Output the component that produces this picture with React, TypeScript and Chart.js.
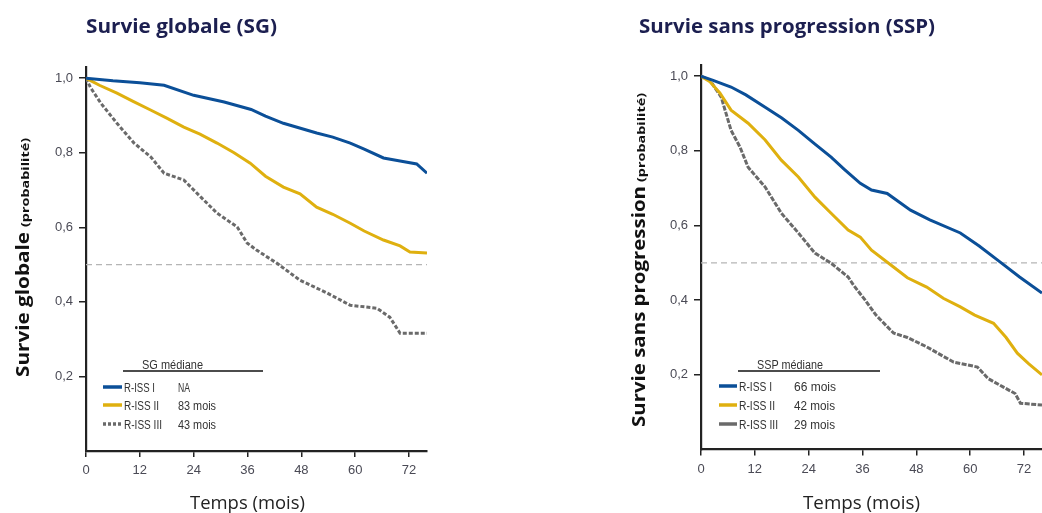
import React, { useEffect, useRef } from "react";
import { Chart, registerables } from "chart.js";

Chart.register(...registerables);

// ---------------- Data ----------------
const xTickValues = [0, 12, 24, 36, 48, 60, 72];
const yTickValues = [0.2, 0.4, 0.6, 0.8, 1.0];
const seriesNames = ["R-ISS I", "R-ISS II", "R-ISS III"];
const sgMedians = ["NA", "83 mois", "43 mois"];
const sspMedians = ["66 mois", "42 mois", "29 mois"];
const medianLine = [0.5, 0.5];
const medianLineMonths = [0, 76];

// Survie globale
const sgIMonths = [0, 6, 12, 17.4, 24, 30.8, 36.8, 40, 44, 51.4, 55, 58.9, 62, 66.3, 70, 73.7, 76];
const sgIProb = [1.0, 0.993, 0.988, 0.981, 0.954, 0.936, 0.916, 0.898, 0.879, 0.853, 0.842, 0.826, 0.81, 0.786, 0.778, 0.77, 0.745];
const sgIIMonths = [0, 3, 6.9, 10.5, 14.5, 18, 21.8, 25.4, 29.2, 33, 36.6, 40, 44, 47.7, 51.4, 55, 58.9, 62, 66.3, 70, 72.2, 76];
const sgIIProb = [1.0, 0.981, 0.96, 0.938, 0.914, 0.893, 0.869, 0.85, 0.826, 0.8, 0.772, 0.737, 0.708, 0.69, 0.654, 0.635, 0.611, 0.59, 0.566, 0.55, 0.534, 0.531];
const sgIIIMonths = [0, 1, 3.3, 6.9, 10.7, 14.5, 17.4, 21.8, 25.6, 29.2, 33.7, 35.9, 38, 42.5, 47.7, 53.7, 58.9, 64.8, 67.7, 70, 76];
const sgIIIProb = [1.0, 0.975, 0.933, 0.879, 0.826, 0.788, 0.745, 0.727, 0.681, 0.638, 0.601, 0.558, 0.539, 0.504, 0.458, 0.424, 0.391, 0.383, 0.359, 0.316, 0.316];

// Survie sans progression
const sspIMonths = [0, 2.7, 6.7, 10, 14.3, 18, 21.7, 25, 29, 32, 35.5, 38, 41.5, 46.7, 51, 57.8, 62, 66.7, 71, 76];
const sspIProb = [1.0, 0.989, 0.971, 0.95, 0.917, 0.888, 0.855, 0.822, 0.783, 0.75, 0.713, 0.695, 0.686, 0.641, 0.615, 0.58, 0.545, 0.502, 0.462, 0.419];
const sspIIMonths = [0, 2, 4.2, 6.7, 10.5, 14.3, 17.9, 21.7, 25.4, 29, 32.8, 35.5, 38, 42.9, 46, 50.3, 54, 57.8, 61, 65.2, 68, 70.5, 73, 76];
const sspIIProb = [1.0, 0.985, 0.955, 0.909, 0.874, 0.829, 0.775, 0.73, 0.676, 0.633, 0.588, 0.569, 0.534, 0.489, 0.46, 0.435, 0.405, 0.382, 0.36, 0.338, 0.3, 0.258, 0.23, 0.2];
const sspIIIMonths = [0, 2, 4.5, 6.7, 8.7, 10.5, 14.3, 17.9, 21.7, 25.4, 29, 32.8, 34, 36.6, 39, 42.9, 46, 50.3, 56.3, 61.6, 64, 67.4, 70, 71.2, 76];
const sspIIIProb = [1.0, 0.989, 0.944, 0.855, 0.81, 0.756, 0.703, 0.633, 0.58, 0.526, 0.499, 0.462, 0.44, 0.4, 0.36, 0.312, 0.3, 0.275, 0.234, 0.221, 0.19, 0.167, 0.15, 0.124, 0.119];

// ---------------- Styles ----------------
const BLUE = "#0b4f98";
const YELLOW = "#dfb00f";
const GRAY = "#6a6a6a";
const NAVY = "#1c1f50";
const SANS = "'Open Sans', 'Noto Sans', sans-serif";
const NARROW = "'Liberation Sans Narrow', 'Liberation Sans', Roboto, sans-serif";

const zip = (xs: number[], ys: number[]) => xs.map((x, i) => ({ x, y: ys[i] }));

function fitText(ctx: CanvasRenderingContext2D, text: string, x: number, y: number, w: number, font: string, color: string) {
  ctx.save();
  ctx.font = font;
  ctx.fillStyle = color;
  ctx.textAlign = "left";
  ctx.textBaseline = "alphabetic";
  const m = ctx.measureText(text).width || 1;
  ctx.translate(x, y);
  ctx.scale(w / m, 1);
  ctx.fillText(text, 0, 0);
  ctx.restore();
}

type Spec = {
  canvasWidth: number;
  yAxisWidth: number;
  xAxisHeight: number;
  padTop: number;
  padRight: number;
  series: { months: number[]; prob: number[] }[];
  grayDash: number[];
  title: { text: string; x: number; y: number; w: number };
  yTitle: { big: string; small: string; baseX: number; bigStart: number; bigEnd: number; smallStart: number; smallEnd: number };
  xTitle: { text: string; x: number; y: number; w: number };
  legend: {
    header: string; headerX: number; headerW: number; lineX1: number; lineX2: number; lineY: number;
    sampleX1: number; sampleX2: number; labelX: number; valueX: number; rowsY: number[];
    values: string[]; labelW: number[]; valueW: number[]; graySampleDash: number[];
  };
};

function makePlugin(spec: Spec) {
  return {
    id: "panelText",
    afterDraw(chart: any) {
      const ctx: CanvasRenderingContext2D = chart.ctx;
      // Title
      fitText(ctx, spec.title.text, spec.title.x, spec.title.y, spec.title.w, `bold 20px ${SANS}`, NAVY);
      // X title
      const xt = spec.xTitle;
      fitText(ctx, xt.text, xt.x, xt.y, xt.w, `19px ${SANS}`, "#222");
      // Y title (rotated)
      const yt = spec.yTitle;
      ctx.save();
      ctx.translate(yt.baseX, 0);
      ctx.rotate(-Math.PI / 2);
      // in rotated frame: u = -screenY
      fitText(ctx, yt.big, -yt.bigStart, 0, yt.bigStart - yt.bigEnd, `bold 18px ${SANS}`, "#111");
      fitText(ctx, yt.small, -yt.smallStart, 0, yt.smallStart - yt.smallEnd, `bold 11px ${SANS}`, "#111");
      ctx.restore();
      // Legend
      const lg = spec.legend;
      fitText(ctx, lg.header, lg.headerX, lg.lineY - 2, lg.headerW, `12px ${NARROW}`, "#333");
      ctx.save();
      ctx.strokeStyle = "#111";
      ctx.lineWidth = 1.5;
      ctx.beginPath();
      ctx.moveTo(lg.lineX1, lg.lineY);
      ctx.lineTo(lg.lineX2, lg.lineY);
      ctx.stroke();
      ctx.restore();
      const colors = [BLUE, YELLOW, GRAY];
      lg.rowsY.forEach((ry, i) => {
        ctx.save();
        ctx.strokeStyle = colors[i];
        ctx.lineWidth = 3.5;
        if (i === 2) ctx.setLineDash(lg.graySampleDash);
        ctx.beginPath();
        ctx.moveTo(lg.sampleX1, ry);
        ctx.lineTo(lg.sampleX2, ry);
        ctx.stroke();
        ctx.restore();
        fitText(ctx, seriesNames[i], lg.labelX, ry + 4.5, lg.labelW[i], `12px ${NARROW}`, "#333");
        fitText(ctx, lg.values[i], lg.valueX, ry + 4.5, lg.valueW[i], `12px ${NARROW}`, "#333");
      });
    },
  };
}

function makeConfig(spec: Spec): any {
  const colors = [BLUE, YELLOW, GRAY];
  const datasets: any[] = spec.series.map((s, i) => ({
    label: seriesNames[i],
    data: zip(s.months, s.prob),
    borderColor: colors[i],
    borderWidth: 3,
    borderDash: i === 2 ? spec.grayDash : [],
    pointRadius: 0,
    fill: false,
    tension: 0,
  }));
  datasets.push({
    label: "médiane",
    data: zip(medianLineMonths, medianLine),
    borderColor: "#b5b5b5",
    borderWidth: 1.3,
    borderDash: [6, 4],
    pointRadius: 0,
    fill: false,
  });
  return {
    type: "line",
    data: { datasets },
    options: {
      animation: false,
      responsive: false,
      maintainAspectRatio: false,
      layout: { padding: { left: 0, top: spec.padTop, right: spec.padRight, bottom: 0 } },
      plugins: { legend: { display: false }, tooltip: { enabled: false }, title: { display: false } },
      scales: {
        x: {
          type: "linear",
          min: 0,
          max: 76,
          afterBuildTicks: (s: any) => { s.ticks = xTickValues.map((v) => ({ value: v })); },
          afterFit: (s: any) => { s.height = spec.xAxisHeight; },
          grid: { display: true, drawOnChartArea: false, drawTicks: true, tickLength: 6, color: "#222", lineWidth: 1.5 },
          border: { display: true, color: "#222", width: 2.2 },
          ticks: { color: "#4a4a55", font: { family: NARROW, size: 13 }, padding: 6, maxRotation: 0, autoSkip: false },
        },
        y: {
          type: "linear",
          min: 0,
          max: 1.03,
          afterBuildTicks: (s: any) => { s.ticks = yTickValues.map((v) => ({ value: v })); },
          afterFit: (s: any) => { s.width = spec.yAxisWidth; },
          grid: { display: true, drawOnChartArea: false, drawTicks: true, tickLength: 7, color: "#222", lineWidth: 1.5 },
          border: { display: true, color: "#222", width: 2.2 },
          ticks: {
            color: "#4a4a55",
            font: { family: NARROW, size: 13 },
            padding: 6,
            callback: (v: any) => Number(v).toFixed(1).replace(".", ","),
          },
        },
      },
    },
    plugins: [makePlugin(spec)],
  };
}

const leftSpec: Spec = {
  canvasWidth: 520,
  yAxisWidth: 86,
  xAxisHeight: 62,
  padTop: 67,
  padRight: 93,
  series: [
    { months: sgIMonths, prob: sgIProb },
    { months: sgIIMonths, prob: sgIIProb },
    { months: sgIIIMonths, prob: sgIIIProb },
  ],
  grayDash: [4, 2],
  title: { text: "Survie globale (SG)", x: 86, y: 33, w: 191 },
  yTitle: { big: "Survie globale", small: "(probabilité)", baseX: 29, bigStart: 377, bigEnd: 232, smallStart: 227, smallEnd: 138 },
  xTitle: { text: "Temps (mois)", x: 190, y: 509, w: 115 },
  legend: {
    header: "SG médiane", headerX: 142, headerW: 61, lineX1: 123, lineX2: 263, lineY: 371,
    sampleX1: 103, sampleX2: 122, labelX: 124, valueX: 178, rowsY: [387, 405, 424],
    values: sgMedians, labelW: [31, 35, 38], valueW: [12, 38, 38], graySampleDash: [3, 2],
  },
};

const rightSpec: Spec = {
  canvasWidth: 522,
  yAxisWidth: 181,
  xAxisHeight: 63.5,
  padTop: 65,
  padRight: 0,
  series: [
    { months: sspIMonths, prob: sspIProb },
    { months: sspIIMonths, prob: sspIIProb },
    { months: sspIIIMonths, prob: sspIIIProb },
  ],
  grayDash: [5, 1.5],
  title: { text: "Survie sans progression (SSP)", x: 119, y: 33, w: 296 },
  yTitle: { big: "Survie sans progression", small: "(probabilité)", baseX: 125, bigStart: 427, bigEnd: 186, smallStart: 182, smallEnd: 93 },
  xTitle: { text: "Temps (mois)", x: 283, y: 509, w: 117 },
  legend: {
    header: "SSP médiane", headerX: 237, headerW: 66, lineX1: 218, lineX2: 360, lineY: 371,
    sampleX1: 199, sampleX2: 217, labelX: 219, valueX: 274, rowsY: [386, 405, 424],
    values: sspMedians, labelW: [33, 36, 39], valueW: [42, 41, 41], graySampleDash: [],
  },
};

function Panel({ spec, left }: { spec: Spec; left: number }) {
  const ref = useRef<HTMLCanvasElement>(null);
  useEffect(() => {
    const chart = new Chart(ref.current as HTMLCanvasElement, makeConfig(spec));
    return () => chart.destroy();
  }, []);
  return (
    <canvas
      ref={ref}
      width={spec.canvasWidth}
      height={513}
      style={{ position: "absolute", left, top: 0, width: spec.canvasWidth, height: 513 }}
    />
  );
}

export default function App() {
  return (
    <div style={{ position: "fixed", left: 0, top: 0, width: 1042, height: 513, background: "#fff", overflow: "hidden" }}>
      <Panel spec={leftSpec} left={0} />
      <Panel spec={rightSpec} left={520} />
    </div>
  );
}
